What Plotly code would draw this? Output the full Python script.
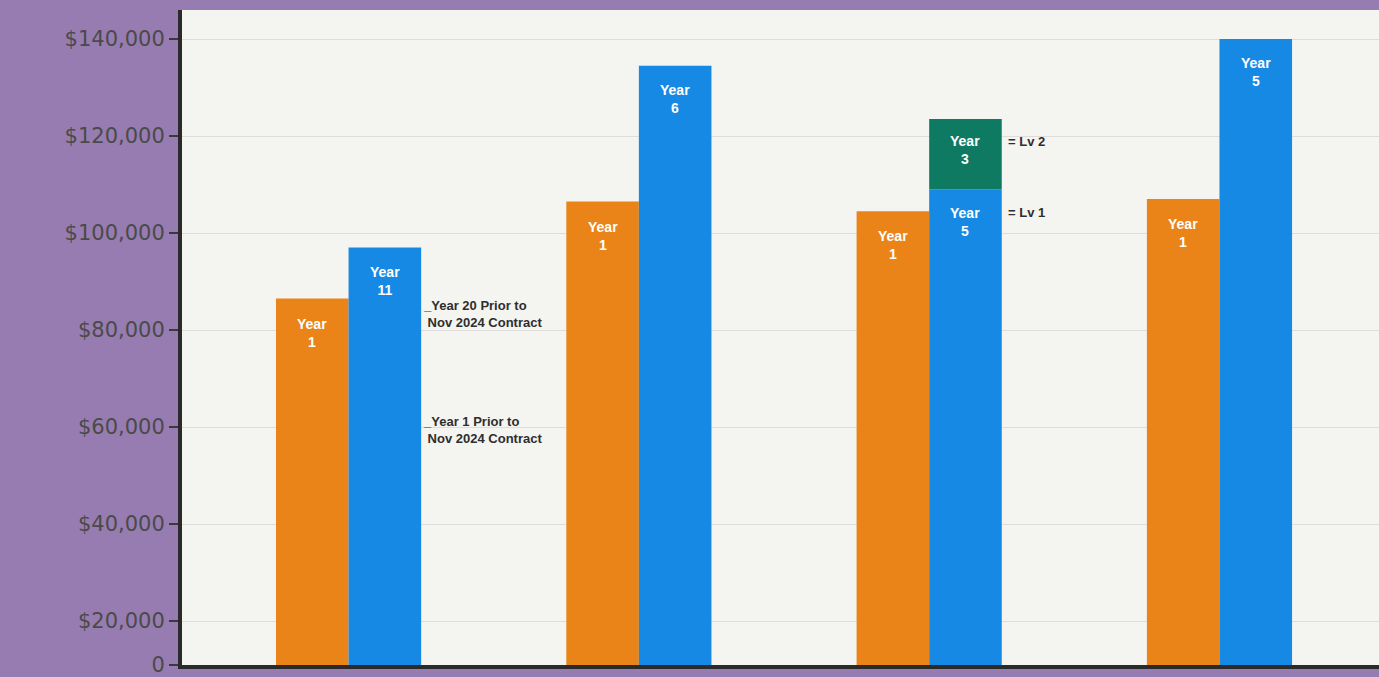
import plotly.graph_objects as go

groups = [0, 1, 2, 3]
orange_vals = [86500, 106500, 104500, 107000]
blue_vals = [97000, 134500, 109000, 140000]
orange_years = ["1", "1", "1", "1"]
blue_years = ["11", "6", "5", "5"]
green_group = [2]
green_top = [123500]
green_year = ["3"]

tick_vals = [10930, 20000, 40000, 60000, 80000, 100000, 120000, 140000]
tick_text = ["0", "$20,000", "$40,000", "$60,000", "$80,000", "$100,000", "$120,000", "$140,000"]

ORANGE = "#ea8418"
BLUE = "#1689e4"
GREEN = "#0f7a62"
PURPLE = "#977cb1"
BAR_W = 0.25

fig = go.Figure()
fig.add_trace(go.Bar(x=groups, y=orange_vals, width=BAR_W, offset=-BAR_W,
                     marker=dict(color=ORANGE, line=dict(width=0)), hoverinfo="skip"))
fig.add_trace(go.Bar(x=groups, y=blue_vals, width=BAR_W, offset=0,
                     marker=dict(color=BLUE, line=dict(width=0)), hoverinfo="skip"))
green_base = [blue_vals[g] for g in green_group]
fig.add_trace(go.Bar(x=green_group, y=[t - b for t, b in zip(green_top, green_base)],
                     base=green_base, width=BAR_W, offset=0,
                     marker=dict(color=GREEN, line=dict(width=0)), hoverinfo="skip"))

lab_font = dict(family="Liberation Sans, Arial, sans-serif", size=14, color="white")
ann = []
for g, v, yr in zip(groups, orange_vals, orange_years):
    ann.append(dict(x=g - BAR_W / 2, y=v, text=f"<b>Year<br>{yr}</b>", showarrow=False,
                    yanchor="top", yshift=-15, font=lab_font))
for g, v, yr in zip(groups, blue_vals, blue_years):
    ann.append(dict(x=g + BAR_W / 2, y=v, text=f"<b>Year<br>{yr}</b>", showarrow=False,
                    yanchor="top", yshift=-14, font=lab_font))
for g, v, yr in zip(green_group, green_top, green_year):
    ann.append(dict(x=g + BAR_W / 2, y=v, text=f"<b>Year<br>{yr}</b>", showarrow=False,
                    yanchor="top", yshift=-12, font=lab_font))

side_font = dict(family="Liberation Sans, Arial, sans-serif", size=13, color="#2e2e2e")
side_notes = [
    (0, 83300, "_Year 20 Prior to<br> Nov 2024 Contract"),
    (0, 59400, "_Year 1 Prior to<br> Nov 2024 Contract"),
]
for g, yv, t in side_notes:
    ann.append(dict(x=g + BAR_W, y=yv, text=f"<b>{t}</b>", showarrow=False, xanchor="left",
                    yanchor="middle", xshift=0, align="left", font=side_font))
lv_notes = [(2, 118800, "= Lv 2"), (2, 104200, "= Lv 1")]
for g, yv, t in lv_notes:
    ann.append(dict(x=g + BAR_W, y=yv, text=f"<b>{t}</b>", showarrow=False, xanchor="left",
                    yanchor="middle", xshift=4, align="left",
                    font=dict(family="Liberation Sans, Arial, sans-serif", size=13, color="#2e2e2e")))

fig.update_layout(
    width=1379, height=677,
    margin=dict(l=182, r=0, t=10, b=12),
    paper_bgcolor=PURPLE,
    plot_bgcolor="#f4f4f1",
    barmode="overlay",
    showlegend=False,
    annotations=ann,
    xaxis=dict(range=[-0.5738, 3.5495], showticklabels=False, showgrid=False, zeroline=False,
               showline=True, linecolor="#2a2a2a", linewidth=4, ticks=""),
    yaxis=dict(range=[10930, 146000], tickvals=tick_vals, ticktext=tick_text,
               showgrid=True, gridcolor="#dedddb", gridwidth=1, zeroline=False,
               showline=True, linecolor="#2a2a2a", linewidth=4,
               ticks="outside", ticklen=9, tickwidth=2, tickcolor="#3a3a3a",
               ticklabeloverflow="allow",
               tickfont=dict(family="DejaVu Sans, sans-serif", size=21, color="#4a4a4a")),
)

fig.write_html("out.html")
